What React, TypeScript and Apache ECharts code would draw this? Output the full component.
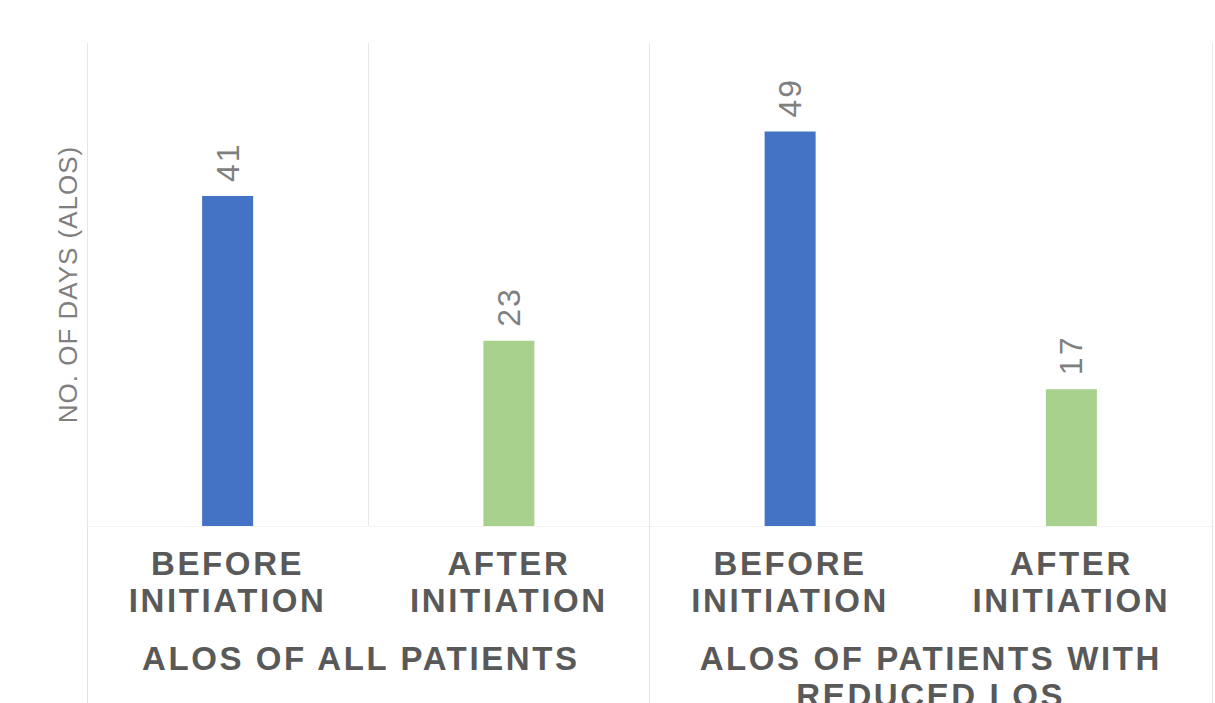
import React, { useEffect, useRef } from "react";
import * as echarts from "echarts";

// Average length of stay, before and after initiation
const categories = [
  "BEFORE\nINITIATION",
  "AFTER\nINITIATION",
  "BEFORE\nINITIATION",
  "AFTER\nINITIATION",
];
const groups = ["ALOS OF ALL PATIENTS", "ALOS OF PATIENTS WITH\nREDUCED LOS"];
const alosDays = [41, 23, 49, 17];
const barColors = ["#4472C4", "#A9D18E", "#4472C4", "#A9D18E"];
const yAxisTitle = "NO. OF DAYS (ALOS)";

const FONT = "'Liberation Sans', Arial, sans-serif";

// Letter spacing per text role, keyed by font size (ECharts has no letterSpacing option)
const spacingCss = `
  .alos-chart text[style*="33px"] { letter-spacing: 2.6px; }
  .alos-chart text[style*="32px"] { letter-spacing: 2px; }
  .alos-chart text[style*="26px"] { letter-spacing: 1px; }
`;

export default function App() {
  const ref = useRef<HTMLDivElement>(null);

  useEffect(() => {
    if (!ref.current) return;
    const chart = echarts.init(ref.current, undefined, { renderer: "svg" });

    const labelStyle = {
      fontFamily: FONT,
      fontSize: 33,
      fontWeight: "bold" as const,
      color: "#595959",
      lineHeight: 37,
    };

    chart.setOption({
      animation: false,
      backgroundColor: "#ffffff",
      grid: {
        left: 87,
        right: 3,
        top: 43,
        bottom: 177,
        containLabel: false,
        outerBoundsMode: "none",
      },
      xAxis: [
        {
          type: "category",
          data: categories,
          axisLine: { show: true, lineStyle: { color: "#f3f3f3", width: 1 } },
          axisTick: { show: false },
          axisLabel: { ...labelStyle, interval: 0, margin: 19 },
          splitLine: {
            show: true,
            lineStyle: {
              color: ["#e7e7e7", "#e7e7e7", "#e7e7e7", "rgba(0,0,0,0)", "#e7e7e7"],
              width: 1,
            },
          },
        },
        {
          type: "category",
          data: groups,
          position: "bottom",
          axisLine: { show: false },
          axisTick: {
            show: true,
            length: 177,
            lineStyle: { color: "#e2e2e2", width: 1 },
          },
          axisLabel: {
            ...labelStyle,
            interval: 0,
            margin: 114,
            // first group title sits a little left of its band centre
            formatter: (value: string, index: number) =>
              index === 0 ? `{g0|${value}}` : value,
            rich: {
              g0: { ...labelStyle, padding: [0, 15, 0, 0] },
            },
          },
          splitLine: { show: false },
        },
      ],
      yAxis: {
        type: "value",
        min: 0,
        max: 60,
        axisLine: { show: false },
        axisTick: { show: false },
        axisLabel: { show: false },
        splitLine: { show: false },
        name: yAxisTitle,
        nameLocation: "middle",
        nameGap: 6,
        nameTextStyle: {
          fontFamily: FONT,
          fontSize: 26,
          color: "#7f7f7f",
        },
      },
      series: [
        {
          type: "bar",
          xAxisIndex: 0,
          barWidth: 51,
          data: alosDays.map((v, i) => ({
            value: v,
            itemStyle: { color: barColors[i] },
          })),
          label: {
            show: true,
            position: "top",
            distance: 14,
            rotate: 90,
            align: "left",
            verticalAlign: "middle",
            fontFamily: FONT,
            fontSize: 32,
            color: "#7f7f7f",
            formatter: "{c}",
          },
        },
      ],
    });

    return () => chart.dispose();
  }, []);

  return (
    <>
      <style>{spacingCss}</style>
      <div
        ref={ref}
        className="alos-chart"
        style={{ position: "absolute", left: 0, top: 0, width: 1215, height: 703 }}
      />
    </>
  );
}
